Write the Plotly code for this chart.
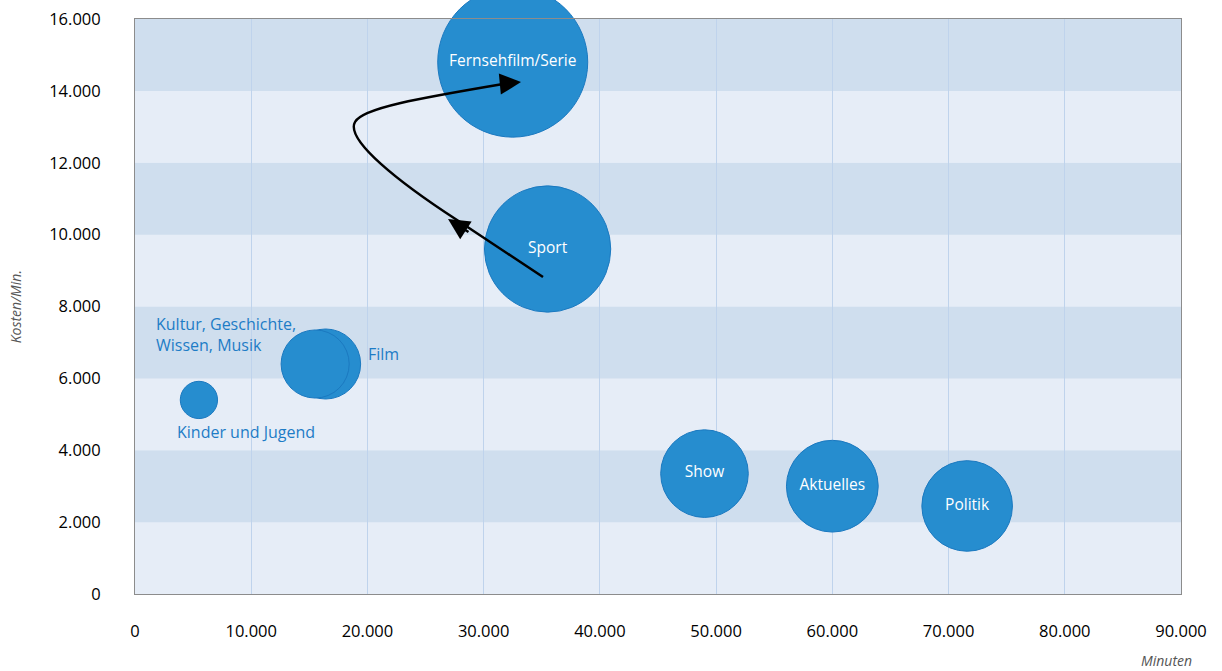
import plotly.graph_objects as go

# ---- data ----
kategorien = ["Fernsehfilm/Serie", "Sport", "Film", "Kultur, Geschichte,<br>Wissen, Musik",
              "Kinder und Jugend", "Show", "Aktuelles", "Politik"]
minuten = [32500, 35500, 16400, 15500, 5500, 49000, 60000, 71600]
kosten_pro_min = [14800, 9600, 6400, 6400, 5400, 3350, 3000, 2450]
# bubble area = total cost = minutes * cost per minute
gesamtkosten = [m * k for m, k in zip(minuten, kosten_pro_min)]

x_ticks = [0, 10000, 20000, 30000, 40000, 50000, 60000, 70000, 80000, 90000]
x_ticklabels = ["0", "10.000", "20.000", "30.000", "40.000", "50.000", "60.000", "70.000", "80.000", "90.000"]
y_ticks = [0, 2000, 4000, 6000, 8000, 10000, 12000, 14000, 16000]
y_ticklabels = ["0", "2.000", "4.000", "6.000", "8.000", "10.000", "12.000", "14.000", "16.000"]

# arrow path (data coordinates)
arrow_path = [(35105, 8821), (27705, 10407), (22801, 11437), (18068, 12634), (18929, 13134),
              (19531, 13523), (24521, 13802), (31800, 14200)]
arrow_heads = [((26931, 10435), (28823, 10045)), ((33212, 14247), (31405, 14191))]

inside = {"Fernsehfilm/Serie", "Sport", "Show", "Aktuelles", "Politik"}
outside_shift = {"Film": (58, 10), "Kultur, Geschichte,<br>Wissen, Musik": (-89, 30),
                 "Kinder und Jugend": (47, -32)}

FONT = "Open Sans"
BUBBLE = "#268dcf"
BUBBLE_LINE = "#1b79c0"
LABEL = "#1d7cc6"
D_MAX = 150
sizeref = 2.0 * max(gesamtkosten) / (D_MAX ** 2)

fig = go.Figure()
fig.add_trace(go.Scatter(
    x=minuten, y=kosten_pro_min, mode="markers+text",
    text=[k if k in inside else "" for k in kategorien],
    textposition="middle center",
    textfont=dict(family=FONT, size=15.5, color="white"),
    marker=dict(size=gesamtkosten, sizemode="area", sizeref=sizeref,
                color=BUBBLE, opacity=1, line=dict(color=BUBBLE_LINE, width=1)),
    hoverinfo="skip", showlegend=False, cliponaxis=False,
))

# background bands
shapes = []
for i in range(8):
    y0 = i * 2000
    col = "#e6edf7" if i % 2 == 0 else "#cfdeee"
    shapes.append(dict(type="rect", xref="x", yref="y", x0=0, x1=90000, y0=y0, y1=y0 + 2000,
                       fillcolor=col, line=dict(width=0), layer="below"))

# curved arrow
p = arrow_path
path = f"M{p[0][0]},{p[0][1]} L{p[1][0]},{p[1][1]} C{p[2][0]},{p[2][1]} {p[3][0]},{p[3][1]} {p[4][0]},{p[4][1]} C{p[5][0]},{p[5][1]} {p[6][0]},{p[6][1]} {p[7][0]},{p[7][1]}"
shapes.append(dict(type="path", xref="x", yref="y", path=path, line=dict(color="black", width=2.5),
                   layer="above"))

annotations = []
for (hx, hy), (tx, ty) in arrow_heads:
    annotations.append(dict(x=hx, y=hy, ax=tx, ay=ty, xref="x", yref="y", axref="x", ayref="y",
                            text="", showarrow=True, arrowhead=2, arrowsize=1.7, arrowwidth=2.5,
                            arrowcolor="black", standoff=0, startstandoff=0))

for k, (dx, dy) in outside_shift.items():
    i = kategorien.index(k)
    annotations.append(dict(x=minuten[i], y=kosten_pro_min[i], xref="x", yref="y", text=k,
                            showarrow=False, xshift=dx, yshift=dy, align="left",
                            font=dict(family=FONT, size=16, color=LABEL)))

annotations.append(dict(text="Kosten/Min.", xref="paper", yref="paper", x=-0.125, y=0.5,
                        textangle=-90, showarrow=False,
                        font=dict(family=FONT, size=14, color="#555555", style="italic")))
annotations.append(dict(text="Minuten", xref="paper", yref="paper", x=1.012, y=-0.116,
                        xanchor="right", yanchor="middle", showarrow=False,
                        font=dict(family=FONT, size=14, color="#555555", style="italic")))

fig.update_layout(
    width=1222, height=671,
    margin=dict(l=135, r=41, t=19, b=77, autoexpand=False),
    paper_bgcolor="white", plot_bgcolor="#e6edf7",
    shapes=shapes, annotations=annotations,
    font=dict(family=FONT, color="black"),
    xaxis=dict(range=[0, 90000], tickvals=x_ticks, ticktext=x_ticklabels,
               showgrid=True, gridcolor="#bfd3ec", gridwidth=1, zeroline=False,
               showline=True, mirror=True, linecolor="#8c8c8c", linewidth=1,
               ticks="", ticklabelstandoff=22, tickfont=dict(family=FONT, size=16.5, color="black")),
    yaxis=dict(range=[0, 16000], tickvals=y_ticks, ticktext=y_ticklabels,
               showgrid=False, zeroline=False,
               showline=True, mirror=True, linecolor="#8c8c8c", linewidth=1,
               ticks="", ticklabelstandoff=30, tickfont=dict(family=FONT, size=16.5, color="black")),
)

fig.write_html("out.html")
